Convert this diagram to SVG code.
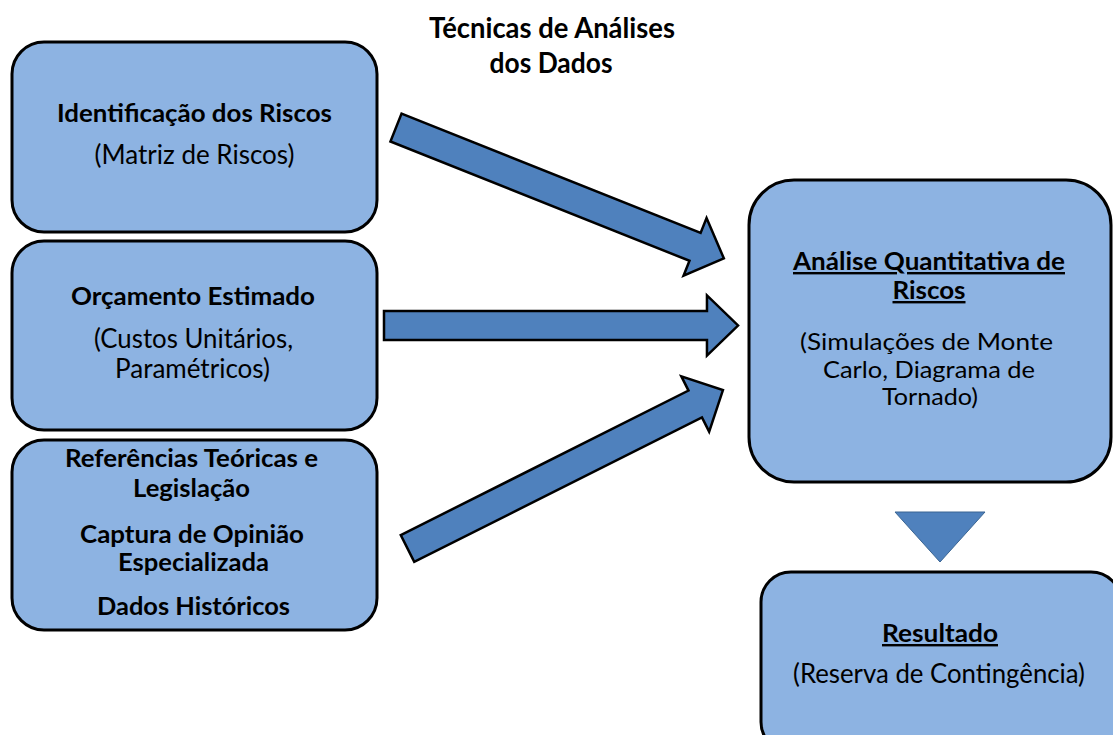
<svg xmlns="http://www.w3.org/2000/svg" width="1113" height="735" viewBox="0 0 1113 735">
<defs>
<style>
.box{fill:#8db3e2;stroke:#000;stroke-width:3}
.arrow{fill:#4f81bd;stroke:#000;stroke-width:2.5;stroke-linejoin:miter}
.t{font-family:Lato,"Open Sans","Liberation Sans",sans-serif;font-size:26px;fill:#000;text-anchor:middle}
.b{font-weight:bold;font-size:24px}
.h{font-weight:bold;font-size:28px}
.s{font-size:22.5px}
.u{text-decoration:underline}
</style>
<path id="blk" d="M0,-15 H322 V-31 L353,0 L322,31 V15 H0 Z"/>
</defs>
<rect width="1113" height="735" fill="#fff"/>
<g id="title">
<text class="t h" x="552" y="38" textLength="246" lengthAdjust="spacingAndGlyphs">Técnicas de Análises</text>
<text class="t h" x="551" y="73" textLength="123" lengthAdjust="spacingAndGlyphs">dos Dados</text>
</g>
<g id="node-identificacao">
<rect class="box" x="12" y="42" width="365" height="190" rx="32"/>
<text class="t b" x="194.5" y="122" textLength="275" lengthAdjust="spacingAndGlyphs">Identificação dos Riscos</text>
<text class="t" x="194.5" y="164" textLength="200" lengthAdjust="spacingAndGlyphs">(Matriz de Riscos)</text>
</g>
<g id="node-orcamento">
<rect class="box" x="12" y="241" width="365" height="189" rx="32"/>
<text class="t b" x="193" y="305" textLength="244" lengthAdjust="spacingAndGlyphs">Orçamento Estimado</text>
<text class="t" x="193.5" y="348" textLength="199" lengthAdjust="spacingAndGlyphs">(Custos Unitários,</text>
<text class="t" x="192.5" y="378" textLength="155" lengthAdjust="spacingAndGlyphs">Paramétricos)</text>
</g>
<g id="node-referencias">
<rect class="box" x="12" y="440" width="365" height="190" rx="32"/>
<text class="t b" x="191.5" y="467" textLength="253" lengthAdjust="spacingAndGlyphs">Referências Teóricas e</text>
<text class="t b" x="191.5" y="497" textLength="117" lengthAdjust="spacingAndGlyphs">Legislação</text>
<text class="t b" x="192" y="543" textLength="224" lengthAdjust="spacingAndGlyphs">Captura de Opinião</text>
<text class="t b" x="193.5" y="571" textLength="151" lengthAdjust="spacingAndGlyphs">Especializada</text>
<text class="t b" x="193.5" y="615" textLength="193" lengthAdjust="spacingAndGlyphs">Dados Históricos</text>
</g>
<g id="node-analise">
<rect class="box" x="749" y="180" width="362" height="302" rx="45"/>
<text class="t b u" x="929" y="270" textLength="272" lengthAdjust="spacingAndGlyphs">Análise Quantitativa de</text>
<text class="t b u" x="929" y="299" textLength="73" lengthAdjust="spacingAndGlyphs">Riscos</text>
<text class="t s" x="926.5" y="350" textLength="253" lengthAdjust="spacingAndGlyphs">(Simulações de Monte</text>
<text class="t s" x="929" y="377.5" textLength="212" lengthAdjust="spacingAndGlyphs">Carlo, Diagrama de</text>
<text class="t s" x="930" y="405" textLength="96" lengthAdjust="spacingAndGlyphs">Tornado)</text>
</g>
<g id="node-resultado">
<rect class="box" x="761" y="572" width="360" height="180" rx="30"/>
<text class="t b u" x="940" y="642" textLength="116" lengthAdjust="spacingAndGlyphs">Resultado</text>
<text class="t" x="939" y="683" textLength="292" lengthAdjust="spacingAndGlyphs">(Reserva de Contingência)</text>
</g>
<g id="connectors">
<use href="#blk" class="arrow" transform="translate(396,127.5) rotate(21.76)"/>
<use href="#blk" class="arrow" transform="translate(384,325.5) scale(1.003,0.97)"/>
<use href="#blk" class="arrow" transform="translate(407.5,548.5) rotate(-26.67)"/>
<polygon points="895,512 985,512 940,562" fill="#4f81bd" stroke="#3a6593" stroke-width="1"/>
</g>
</svg>
